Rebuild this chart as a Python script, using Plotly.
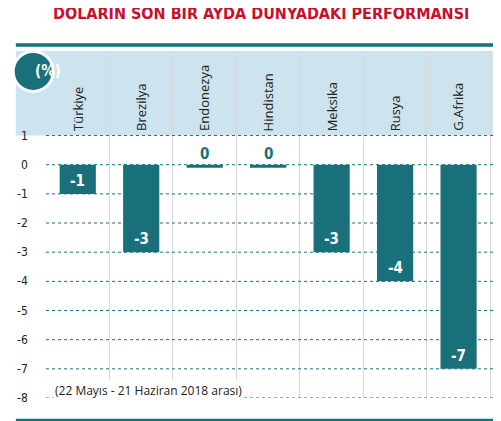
import plotly.graph_objects as go

countries = ["Türkiye", "Brezilya", "Endonezya", "Hindistan", "Meksika", "Rusya", "G.Afrika"]
values = [-1, -3, -0.1, -0.1, -3, -4, -7]
labels = ["-1", "-3", "0", "0", "-3", "-4", "-7"]
y_ticks = [1, 0, -1, -2, -3, -4, -5, -6, -7, -8]

teal = "#19707a"
band = "#cde3ee"
xs = list(range(len(countries)))

fig = go.Figure()
fig.add_trace(go.Bar(x=xs, y=values, width=0.57, marker=dict(color=teal, line=dict(width=0)),
                     hoverinfo="skip"))

annotations = []
for i, (c, v, lab) in enumerate(zip(countries, values, labels)):
    annotations.append(dict(x=i, y=1.08, xref="x", yref="y", text=c, textangle=-90,
                            xanchor="center", yanchor="bottom", showarrow=False,
                            font=dict(family="Open Sans", size=13, color="#222")))
    if v > -0.5:
        annotations.append(dict(x=i, y=0, text=f"<b>{lab}</b>", yanchor="bottom", showarrow=False,
                                font=dict(family="DejaVu Sans Condensed", size=15, color=teal)))
    else:
        annotations.append(dict(x=i, y=v, text=f"<b>{lab}</b>", yanchor="bottom", yshift=2,
                                showarrow=False,
                                font=dict(family="DejaVu Sans Condensed", size=15, color="white")))
for t in y_ticks:
    annotations.append(dict(x=-0.035, y=t, xref="paper", yref="y", text=str(t), showarrow=False,
                            xanchor="right", font=dict(family="DejaVu Sans Condensed", size=12, color="#222")))

annotations += [
    dict(x=0.47, y=1.14, xref="paper", yref="paper", showarrow=False,
         text="<b>DOLARIN SON BİR AYDA DÜNYADAKİ PERFORMANSI</b>",
         font=dict(family="DejaVu Sans Condensed", size=16, color="#c8102e")),
    dict(x=-0.028, y=3.2, xref="paper", yref="y", showarrow=False, text="<b>(%)</b>",
         font=dict(family="DejaVu Sans Condensed", size=15, color="white")),
    dict(x=0.015, y=-7.75, xref="paper", yref="y", showarrow=False, xanchor="left",
         text="(22 Mayıs - 21 Haziran 2018 arası)", bgcolor="white",
         font=dict(family="Open Sans", size=12, color="#222")),
]

shapes = [
    dict(type="rect", xref="paper", yref="y", x0=-0.066, x1=1.0, y0=1, y1=3.9,
         fillcolor=band, line=dict(width=0), layer="below"),
    dict(type="rect", xref="paper", yref="paper", x0=-0.066, x1=1.0, y0=1.012, y1=1.022,
         fillcolor=teal, line=dict(width=0)),
    dict(type="rect", xref="paper", yref="paper", x0=-0.066, x1=1.0, y0=-0.075, y1=-0.06,
         fillcolor=teal, line=dict(width=0)),
    dict(type="circle", xref="paper", yref="y", xsizemode="pixel", ysizemode="pixel",
         xanchor=-0.028, yanchor=3.2, x0=-20, x1=20, y0=-20, y1=20,
         fillcolor=teal, line=dict(color="white", width=3)),
]
for t in y_ticks:
    shapes.append(dict(type="line", xref="paper", yref="y", x0=0, x1=1, y0=t, y1=t,
                       line=dict(color=teal, width=1, dash="dot"), layer="above"))

fig.update_layout(
    width=501, height=421, margin=dict(l=38, r=6, t=43, b=31),
    paper_bgcolor="white", plot_bgcolor="white", showlegend=False,
    xaxis=dict(range=[-0.5, 6.7], tick0=0.5, dtick=1, showticklabels=False, ticks="",
               showgrid=True, gridcolor="#d8d8d8", zeroline=False, fixedrange=True),
    yaxis=dict(range=[-8, 3.9], showticklabels=False, showgrid=False, zeroline=False, fixedrange=True),
    shapes=shapes, annotations=annotations,
)
fig.write_html("out.html")
